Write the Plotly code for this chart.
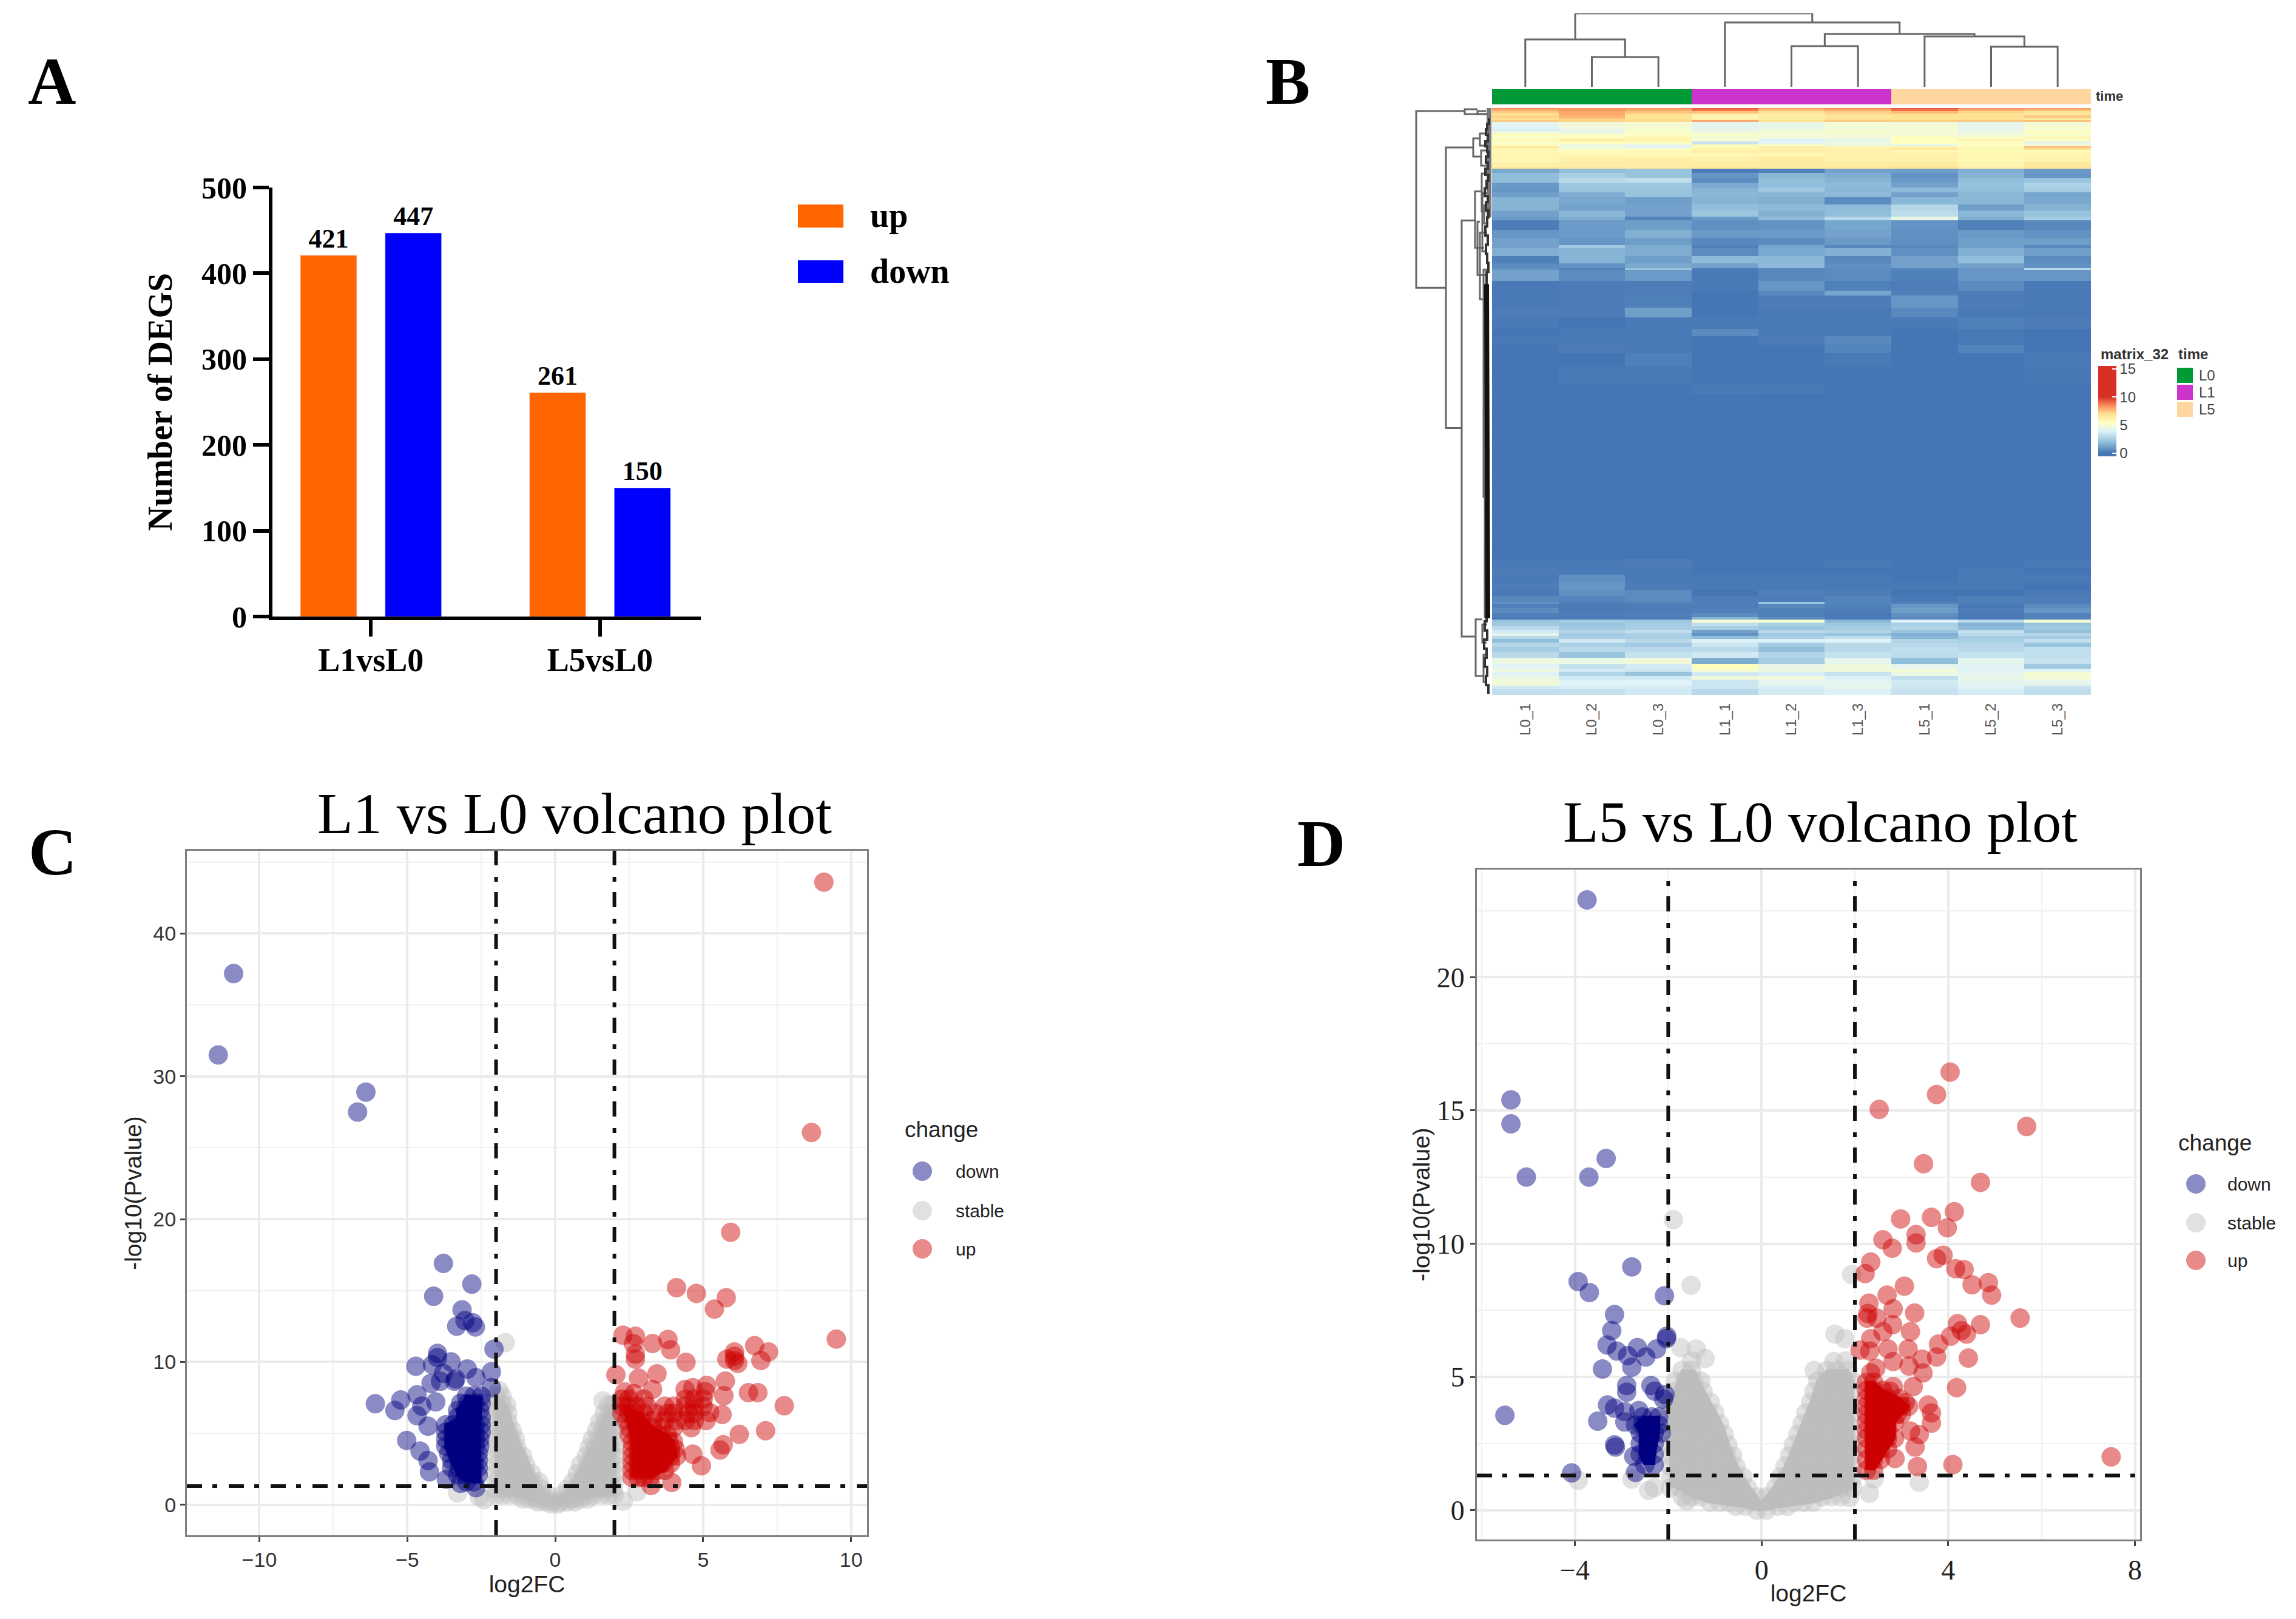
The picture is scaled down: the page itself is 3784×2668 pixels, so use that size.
import numpy as np
import plotly.graph_objects as go

W, H = 3784, 2668
SERIF = "Liberation Serif"
SANS = "Liberation Sans"

# panel A
contrasts = ["L1vsL0", "L5vsL0"]
up_counts = [421, 261]
down_counts = [447, 150]
bar_orange = "#ff6600"
bar_blue = "#0000ff"

# panel B
sample_names = ["L0_1", "L0_2", "L0_3", "L1_1", "L1_2", "L1_3", "L5_1", "L5_2", "L5_3"]
sample_group = [0, 0, 0, 1, 1, 1, 2, 2, 2]
group_names = ["L0", "L1", "L5"]
group_colors = ["#009a36", "#cc33cc", "#ffd5a0"]
heat_stops = [0, 2, 4, 5.5, 7, 8.5, 10, 15]
heat_colors = ["#4575b4", "#91bfdb", "#e0f3f8", "#ffffbf", "#fee090", "#fc8d59", "#d73027", "#d73027"]

row_span = [
    2, 3, 4, 3, 5, 3, 3,
    6, 5, 4, 4, 5, 4, 4, 5, 3, 3, 3, 5, 7, 8, 8, 3,
    7, 8, 8, 8, 8, 8, 12, 10, 10, 6,
    16, 13, 12, 5, 13, 12, 8, 3, 18, 16,
    8, 20, 16, 19, 12, 14, 14, 22, 30, 15, 271,
    14, 12, 13, 12, 10, 10, 3, 7, 8, 7, 4,
    5, 6, 6, 5, 5, 5, 6, 7, 8, 10, 10, 8, 5, 7, 6, 10, 5, 10,
]
row_values = [
    [8.6, 8.4, 8.4, 9.3, 8.4, 8.7, 9.3, 8.6, 8.3],
    [8.0, 8.3, 8.0, 8.9, 7.6, 7.9, 9.0, 7.9, 7.7],
    [7.4, 8.0, 7.5, 7.6, 6.9, 7.3, 7.7, 7.2, 6.8],
    [6.6, 8.0, 7.0, 6.2, 6.3, 7.0, 7.0, 6.7, 6.5],
    [7.2, 7.8, 6.8, 6.0, 6.3, 6.6, 6.8, 7.0, 7.4],
    [7.0, 7.3, 7.0, 6.2, 6.4, 7.0, 6.9, 6.9, 6.4],
    [7.4, 7.2, 7.1, 8.0, 6.9, 7.4, 7.3, 7.4, 7.5],
    [4.2, 4.8, 5.0, 4.2, 4.5, 4.9, 4.8, 4.4, 4.9],
    [4.0, 4.7, 5.0, 4.2, 4.4, 4.9, 4.9, 4.3, 5.2],
    [3.8, 4.4, 5.1, 4.4, 4.7, 5.0, 4.9, 4.4, 5.0],
    [4.6, 4.4, 5.2, 4.6, 5.0, 5.1, 4.9, 4.5, 5.6],
    [5.6, 5.3, 5.4, 5.2, 4.9, 4.9, 5.0, 4.8, 5.1],
    [5.2, 5.6, 6.0, 4.9, 4.7, 4.8, 5.6, 5.3, 5.9],
    [5.8, 6.4, 6.0, 5.0, 3.9, 4.3, 5.5, 6.0, 5.3],
    [5.2, 5.6, 5.4, 3.4, 4.2, 4.6, 5.5, 5.4, 4.4],
    [5.7, 4.4, 4.3, 5.7, 5.4, 4.6, 4.2, 5.5, 5.0],
    [6.6, 4.7, 4.0, 5.8, 6.4, 6.0, 6.2, 5.8, 7.6],
    [6.0, 5.0, 5.3, 6.0, 6.1, 6.2, 6.6, 5.8, 6.9],
    [5.9, 5.7, 5.8, 6.3, 6.3, 6.2, 5.9, 5.8, 5.8],
    [6.0, 5.9, 5.8, 5.9, 5.9, 6.1, 6.2, 5.9, 6.0],
    [5.9, 6.2, 6.3, 6.2, 6.4, 6.2, 6.2, 5.8, 6.1],
    [6.2, 6.3, 6.3, 6.4, 6.5, 6.4, 6.5, 6.0, 6.6],
    [6.8, 6.7, 6.5, 6.7, 6.6, 6.7, 6.8, 6.3, 6.7],
    [1.4, 2.0, 2.2, 0.2, 0.3, 1.2, 1.1, 1.5, 1.0],
    [2.0, 2.6, 2.2, 0.9, 1.8, 1.5, 0.8, 1.7, 0.9],
    [2.0, 3.0, 3.2, 0.6, 2.0, 1.7, 1.0, 2.0, 2.2],
    [1.0, 2.3, 2.3, 1.4, 2.0, 1.9, 1.2, 2.1, 2.7],
    [0.9, 2.2, 2.2, 1.7, 2.4, 1.8, 1.9, 2.0, 2.5],
    [1.1, 1.5, 2.2, 1.8, 1.7, 1.9, 1.2, 1.8, 1.3],
    [1.7, 1.4, 1.1, 1.7, 1.6, 0.6, 1.8, 1.8, 1.4],
    [1.7, 1.2, 1.2, 2.0, 1.9, 1.9, 2.9, 1.1, 1.7],
    [1.2, 1.8, 1.2, 2.3, 1.6, 2.0, 3.1, 1.8, 2.1],
    [1.0, 1.5, 0.4, 1.0, 1.9, 3.0, 4.5, 1.6, 2.5],
    [0.2, 1.0, 1.1, 0.7, 0.8, 1.3, 0.8, 0.3, 0.5],
    [0.9, 1.0, 1.6, 1.0, 1.0, 1.2, 0.7, 1.0, 0.8],
    [1.2, 0.9, 1.1, 0.5, 0.6, 1.0, 0.7, 1.1, 1.1],
    [1.2, 2.4, 1.5, 0.3, 1.3, 0.5, 0.5, 1.1, 0.5],
    [1.6, 1.7, 1.5, 0.6, 1.4, 1.6, 0.7, 1.6, 1.1],
    [0.3, 1.7, 1.1, 1.9, 1.8, 0.5, 1.2, 2.0, 0.6],
    [0.6, 0.8, 1.4, 1.2, 1.9, 0.7, 1.2, 1.2, 0.8],
    [0.8, 0.3, 2.2, 0.2, 0.5, 0.6, 0.4, 0.9, 3.0],
    [1.2, 0.6, 1.0, 0.1, 0.5, 0.6, 0.3, 0.9, 0.9],
    [0.1, 0.2, 0.2, 0.1, 0.9, 0.3, 0.2, 0.6, 0.1],
    [0.1, 0.2, 0.2, 0.0, 0.5, 1.3, 0.3, 0.2, 0.1],
    [0.1, 0.2, 0.3, 0.0, 0.2, 0.2, 0.9, 0.2, 0.1],
    [0.2, 0.2, 1.1, 0.0, 0.1, 0.1, 0.5, 0.1, 0.1],
    [0.1, 0.0, 0.1, 0.1, 0.1, 0.1, 0.1, 0.3, 0.2],
    [0.0, 0.1, 0.1, 0.6, 0.1, 0.1, 0.0, 0.1, 0.0],
    [0.1, 0.1, 0.1, 0.0, 0.2, 0.5, 0.0, 0.1, 0.0],
    [0.0, 0.2, 0.1, 0.0, 0.0, 0.4, 0.0, 0.4, 0.0],
    [0.0, 0.0, 0.3, 0.0, 0.0, 0.1, 0.0, 0.0, 0.1],
    [0.0, 0.1, 0.1, 0.0, 0.0, 0.0, 0.0, 0.0, 0.05],
    [0.0, 0.0, 0.0, 0.15, 0.1, 0.0, 0.0, 0.0, 0.0],
    [0.0, 0.0, 0.0, 0.0, 0.0, 0.0, 0.0, 0.0, 0.0],
    [0.1, 0.1, 0.2, 0.0, 0.0, 0.1, 0.0, 0.0, 0.1],
    [0.2, 0.1, 0.1, 0.0, 0.0, 0.0, 0.0, 0.1, 0.0],
    [0.1, 0.7, 0.1, 0.1, 0.1, 0.1, 0.0, 0.1, 0.1],
    [0.2, 0.9, 0.2, 0.1, 0.1, 0.1, 0.1, 0.1, 0.0],
    [0.1, 0.7, 0.6, 0.0, 0.3, 0.2, 0.0, 0.0, 0.1],
    [0.5, 0.4, 0.6, 0.2, 0.2, 0.4, 0.1, 0.3, 0.2],
    [0.7, 0.2, 0.3, 0.3, 2.2, 0.4, 0.3, 0.2, 0.3],
    [0.3, 0.2, 0.2, 0.2, 0.5, 0.3, 0.9, 0.1, 0.6],
    [0.6, 0.1, 0.2, 0.3, 0.3, 0.2, 1.1, 0.2, 0.9],
    [0.3, 0.2, 0.3, 0.6, 0.3, 0.1, 0.7, 0.1, 0.4],
    [0.1, 0.2, 0.2, 1.7, 0.6, 0.1, 0.5, 0.1, 0.4],
    [2.2, 2.5, 2.3, 5.0, 5.0, 1.8, 4.0, 3.0, 5.0],
    [2.4, 2.2, 2.5, 3.2, 2.6, 2.3, 2.6, 1.7, 2.2],
    [3.0, 2.4, 2.6, 2.6, 2.3, 2.5, 2.8, 1.9, 2.4],
    [3.6, 2.8, 3.2, 1.2, 3.0, 2.8, 2.2, 3.2, 2.0],
    [4.2, 2.4, 2.7, 0.8, 2.4, 2.2, 1.6, 3.0, 2.8],
    [3.0, 2.5, 2.6, 2.0, 2.6, 3.2, 1.8, 2.5, 2.5],
    [2.0, 3.6, 3.0, 3.9, 3.9, 4.0, 2.8, 2.6, 3.2],
    [2.9, 2.6, 2.4, 3.5, 2.4, 3.0, 3.0, 2.9, 2.2],
    [2.5, 3.0, 3.0, 3.0, 2.0, 3.0, 3.2, 3.0, 3.2],
    [3.0, 2.2, 3.3, 3.6, 2.8, 3.3, 3.1, 3.3, 3.2],
    [4.6, 4.5, 4.8, 1.5, 2.5, 4.3, 2.0, 4.2, 3.4],
    [4.1, 3.3, 3.7, 5.6, 4.4, 4.7, 4.2, 4.1, 2.4],
    [4.7, 3.7, 3.5, 5.0, 4.6, 4.8, 4.9, 4.0, 4.0],
    [4.0, 2.8, 2.2, 3.6, 3.8, 3.4, 4.5, 4.2, 5.0],
    [4.6, 3.6, 3.6, 4.8, 4.8, 3.9, 3.2, 4.4, 4.9],
    [4.8, 4.0, 4.0, 3.5, 4.3, 4.2, 3.6, 4.2, 4.3],
    [3.6, 3.8, 3.7, 3.5, 3.8, 4.4, 3.5, 4.0, 3.4],
    [3.2, 3.3, 3.6, 3.0, 3.7, 3.9, 3.4, 3.7, 3.2],
]

# column tree: node ids 0-8 are samples, merges get 9, 10, ...
col_merge_a = [1, 0, 4, 7, 6, 11, 3, 10]
col_merge_b = [2, 9, 5, 8, 12, 13, 14, 15]
col_merge_h = [49, 78, 67, 66, 83, 87, 106, 121]

# row tree, heights measured away from the heatmap
row_node_h = [125, 45, 24, 76, 31, 20, 18, 50, 28, 17, 13, 24, 20, 27, 16, 14, 14, 12, 16]
row_node_top = [5, 2, 5, 65, 50, 42, 70, 185, 137, 108, 160, 187, 205, 842, 850, 900, 266, 300, 140]
row_node_bottom = [296, 10, 10, 527, 80, 62, 95, 870, 230, 170, 190, 275, 315, 935, 880, 945, 640, 838, 236]
row_node_top_h = [45, 24, 10, 31, 20, 10, 9, 28, 17, 9, 8, 20, 8, 16, 8, 8, 8, 8, 8]
row_node_bottom_h = [76, 8, 6, 50, 18, 10, 9, 27, 13, 9, 8, 10, 10, 14, 9, 8, 8, 8, 8]
row_fine_rank = [18, 26, 35, 44, 55, 63, 72, 80, 90, 100, 110, 120, 132, 145, 155, 168, 180, 195, 210,
                 225, 240, 255, 270, 290, 845, 860, 875, 890, 905, 920, 935, 950, 965]
row_fine_h = [6, 5, 8, 10, 7, 11, 8, 6, 10, 7, 11, 6, 9, 12, 7, 10, 6, 8, 11, 7,
              10, 8, 6, 9, 9, 12, 8, 13, 9, 12, 8, 10, 6]
row_core_rank = [290, 560, 840]
row_core_h = [9, 9, 7]
row_hatch_rank = [0, 180]
row_hatch_h = [5, 5]

# panel C
change_names = ["down", "stable", "up"]
change_colors = ["rgba(0,0,128,0.46)", "rgba(190,190,190,0.46)", "rgba(205,0,0,0.46)"]
core_colors = ["#000080", "#bdbdbd", "#cc0000"]
fc_cut = 2
p_cut = 1.3

c_down_x = [-10.87, -11.39, -6.4, -6.68, -3.78, -2.82, -4.11, -3.15, -3.33, -2.7, -3.05, -2.79, -2.07, -2.16,
            -3.98, -3.98, -4.71, -3.52, -2.97, -4.15, -3.78, -3.4, -3.36, -4.2, -2.68, -3.88, -2.16, -6.08,
            -5.42, -5.22, -4.67, -4.51, -4.67, -4.04, -4.3, -5.02, -4.57, -4.3, -4.25, -3.68, -3.2, -2.68]
c_down_y = [37.2, 31.5, 28.9, 27.5, 16.9, 15.45, 14.6, 13.65, 12.5, 12.45, 12.9, 12.75, 10.9, 9.3,
            10.6, 10.3, 9.7, 10.0, 9.5, 9.8, 9.2, 8.65, 8.8, 8.5, 8.9, 8.65, 8.2, 7.07,
            6.6, 7.34, 7.7, 6.9, 6.24, 7.2, 5.5, 4.5, 3.76, 3.1, 2.3, 1.78, 1.5, 1.2]
c_down_levels = [1.6, 2.1, 2.6, 3.1, 3.6, 4.1, 4.6, 5.1, 5.6, 6.1, 6.6, 7.1, 7.6]
c_down_level_x = [
    [-3.0, -2.75],
    [-3.3, -3.05, -2.8, -2.6],
    [-3.5, -3.25, -3.0, -2.75, -2.6],
    [-3.5, -3.25, -3.0, -2.75, -2.6],
    [-3.6, -3.35, -3.1, -2.85, -2.6],
    [-3.7, -3.45, -3.2, -2.95, -2.7, -2.55],
    [-3.7, -3.45, -3.2, -2.95, -2.7, -2.55],
    [-3.7, -3.45, -3.2, -2.95, -2.7, -2.5],
    [-3.7, -3.45, -3.2, -2.95, -2.7, -2.5],
    [-3.3, -3.05, -2.8, -2.5],
    [-3.3, -3.05, -2.8, -2.55],
    [-3.2, -2.95, -2.7, -2.5],
    [-3.0, -2.75, -2.5],
]
c_down_core_x = [-2.55, -2.55, -2.5, -3.0, -3.3, -3.3, -3.7, -3.7, -3.5, -3.3, -3.0]
c_down_core_y = [1.5, 5.0, 7.5, 7.6, 6.6, 6.0, 5.6, 4.1, 3.0, 2.1, 1.6]
c_up_x = [9.08, 8.66, 5.93, 9.5, 4.1, 4.77, 5.78, 5.38, 2.29, 2.71, 2.64, 3.29, 3.81, 3.9, 2.71, 2.71, 4.42,
          6.74, 7.21, 6.95, 5.8, 6.06, 6.06, 6.17, 6.06, 2.05, 2.82, 3.44, 5.75, 3.29, 2.35, 2.66, 4.39, 4.65,
          5.12, 5.07, 5.7, 6.53, 6.85, 7.74, 5.64, 5.22, 7.11, 6.22, 5.68, 5.57, 4.94, 4.65, 3.94, 3.24]
c_up_y = [43.6, 26.07, 19.08, 11.6, 15.2, 14.8, 14.5, 13.7, 11.87, 11.8, 11.29, 11.29, 11.58, 10.85, 10.55, 10.2, 9.97,
          11.14, 10.7, 10.1, 10.2, 10.7, 10.4, 9.9, 10.1, 9.1, 8.87, 9.17, 8.65, 8.07, 7.9, 7.78, 8.07, 8.2,
          8.36, 7.92, 7.63, 7.85, 7.85, 6.93, 6.32, 6.46, 5.18, 4.93, 4.2, 3.83, 2.73, 3.54, 1.56, 1.35]
c_up_levels = [1.9, 2.4, 2.9, 3.4, 3.9, 4.4, 4.9, 5.4, 5.9, 6.4, 6.9, 7.4]
c_up_level_x = [
    [2.6, 2.8, 3.0, 3.2],
    [2.6, 2.8, 3.0, 3.2, 3.45, 3.7],
    [2.6, 2.8, 3.0, 3.2, 3.4, 3.65, 3.9],
    [2.6, 2.8, 3.05, 3.25, 3.45, 3.65, 3.9, 4.1],
    [2.6, 2.8, 3.0, 3.2, 3.45, 3.65, 3.9, 4.05],
    [2.6, 2.8, 3.05, 3.25, 3.45, 3.6, 3.85, 4.0],
    [2.5, 2.75, 3.0, 3.25, 3.5, 3.8],
    [2.5, 2.75, 3.0, 3.3, 3.6, 4.0, 4.6],
    [2.4, 2.65, 2.9, 3.3, 3.7, 4.1, 4.4, 4.7, 5.1],
    [2.25, 2.5, 2.7, 3.0, 3.4, 3.8, 4.0, 4.5, 4.7],
    [2.25, 2.45, 2.75, 3.1, 3.7, 4.0, 4.4, 4.7, 5.0],
    [2.25, 2.5, 3.0, 4.4, 4.7, 5.0],
]
c_up_core_x = [2.6, 2.6, 2.5, 2.3, 2.9, 3.3, 3.8, 4.0, 4.1, 3.9, 3.7, 3.2]
c_up_core_y = [1.9, 4.5, 5.5, 6.9, 6.4, 5.4, 4.9, 4.4, 3.4, 2.9, 2.4, 1.9]
c_stable_x = [-1.69, 1.61, -3.3, -2.57, -2.4, 2.3, 2.76]
c_stable_y = [11.35, 7.27, 0.83, 0.55, 0.35, 0.25, 0.9]
c_stable_levels = [0.05, 0.2, 0.4, 0.7, 1.1, 1.6, 2.2, 2.8, 3.4, 4.0, 4.6, 5.2, 5.8, 6.4, 7.0, 7.6, 8.0]
c_stable_level_x = [
    [-0.15, 0.1],
    [-0.6, -0.35, -0.1, 0.15, 0.4, 0.65],
    [-1.1, -0.85, -0.6, -0.3, 0.35, 0.6, 0.85, 1.1],
    [-2.0, -1.8, -1.55, -1.3, -1.05, -0.8, -0.5, -0.25, 0.25, 0.55, 0.8, 1.05, 1.3, 1.55, 1.8, 2.0],
    [-2.0, -1.75, -1.5, -1.25, -1.0, -0.75, -0.45, 0.4, 0.65, 0.95, 1.2, 1.45, 1.7, 1.95],
    [-2.0, -1.75, -1.5, -1.25, -1.0, -0.75, -0.55, 0.6, 0.85, 1.1, 1.35, 1.6, 1.85, 2.0],
    [-2.0, -1.75, -1.5, -1.25, -1.0, -0.8, 0.75, 1.0, 1.25, 1.5, 1.75, 2.0],
    [-2.0, -1.75, -1.5, -1.25, -1.0, 0.85, 1.1, 1.35, 1.6, 1.85, 2.0],
    [-2.0, -1.75, -1.5, -1.25, -1.1, 1.05, 1.25, 1.5, 1.75, 2.0],
    [-2.0, -1.75, -1.5, -1.3, 1.15, 1.35, 1.6, 1.85, 2.0],
    [-2.0, -1.75, -1.5, -1.35, 1.25, 1.45, 1.7, 1.95],
    [-2.0, -1.8, -1.6, -1.45, 1.4, 1.6, 1.85, 2.0],
    [-2.0, -1.8, -1.6, 1.5, 1.7, 1.95],
    [-2.0, -1.8, -1.6, 1.65, 1.85, 2.0],
    [-2.0, -1.8, -1.65, 1.8, 1.95],
    [-2.0, -1.8],
    [-1.9],
]
c_stable_core_x = [-2.0, -2.0, -1.65, -1.35, -1.0, -0.6, -0.3, 0.0, 0.3, 0.6, 1.05, 1.35, 1.65, 1.9, 2.0, 2.0, 1.3, 0.6, 0.0, -0.6, -1.3]
c_stable_core_y = [0.7, 7.4, 7.0, 5.0, 3.4, 1.6, 0.7, 0.5, 0.7, 1.6, 3.4, 4.6, 6.4, 7.0, 7.0, 0.7, 0.6, 0.2, 0.05, 0.2, 0.6]

# panel D
d_down_x = [-3.74, -5.37, -5.37, -5.04, -3.33, -3.7, -5.5, -4.07, -2.78, -3.93, -3.69, -2.08, -3.15, -3.21, -3.31,
            -3.1, -2.87, -2.66, -2.48, -2.78, -3.41, -2.25, -2.03, -2.04, -2.89, -2.89, -2.37, -2.29, -2.07, -2.1,
            -3.3, -3.15, -2.93, -2.63, -3.51, -2.93, -3.15, -3.13, -2.7, -2.74]
d_down_y = [22.9, 15.4, 14.5, 12.5, 13.2, 12.5, 3.56, 1.4, 9.13, 8.58, 8.17, 8.05, 7.34, 6.74, 6.2,
            5.97, 5.8, 6.1, 5.75, 5.37, 5.3, 6.05, 6.53, 6.44, 4.68, 4.43, 4.68, 4.47, 4.34, 4.17,
            3.95, 3.83, 3.7, 3.74, 3.34, 3.31, 2.45, 2.37, 1.42, 2.02]
d_down_levels = [1.7, 2.1, 2.5, 2.9, 3.2, 3.5]
d_down_level_x = [
    [-2.5, -2.3],
    [-2.6, -2.45, -2.3],
    [-2.6, -2.45, -2.3],
    [-2.6, -2.45, -2.3, -2.15],
    [-2.7, -2.55, -2.4, -2.2],
    [-2.55, -2.35, -2.2],
]
d_down_core_x = [-2.5, -2.6, -2.6, -2.7, -2.55, -2.2, -2.2, -2.3, -2.3]
d_down_core_y = [1.7, 2.1, 2.9, 3.2, 3.5, 3.5, 2.9, 2.0, 1.7]
d_up_x = [4.04, 3.75, 2.52, 5.68, 3.47, 4.69, 7.49, 2.98, 3.64, 4.13, 3.98, 3.31, 3.31, 2.6, 2.8, 2.34, 2.22, 3.75,
          3.89, 4.16, 4.34, 4.51, 4.86, 4.93, 3.06, 2.69, 2.3, 2.82, 2.28, 2.26, 2.47, 3.28, 2.81, 5.54, 4.69, 4.2,
          3.19, 4.39, 4.28, 4.05, 2.34, 2.6, 3.79, 2.11, 2.32, 2.71, 3.14, 3.75, 3.44, 4.43, 2.82, 3.16, 3.46, 2.45,
          2.34, 3.25, 4.18, 2.82, 2.75, 3.08, 3.57, 3.64, 3.64, 3.19, 3.38, 3.29, 2.86, 3.34, 4.1]
d_up_y = [16.44, 15.6, 15.04, 14.4, 13.0, 12.3, 2.0, 10.93, 10.99, 11.2, 10.6, 10.34, 10.03, 10.15, 9.83, 9.31, 8.88, 9.44,
          9.57, 9.06, 9.03, 8.46, 8.54, 8.07, 8.41, 8.07, 7.77, 7.56, 7.38, 7.21, 7.21, 7.4, 6.96, 7.21, 6.96, 7.0,
          6.7, 6.61, 6.74, 6.53, 6.44, 6.7, 6.23, 6.01, 5.97, 6.05, 6.05, 5.75, 5.67, 5.71, 5.58, 5.41, 5.15, 5.33,
          5.15, 4.64, 4.6, 4.64, 4.47, 4.04, 3.95, 3.65, 3.27, 2.97, 2.84, 2.37, 1.94, 1.64, 1.71]
d_up_levels = [1.5, 1.9, 2.3, 2.7, 3.0, 3.3, 3.6, 3.9, 4.2, 4.5, 4.8]
d_up_level_x = [
    [2.25, 2.4],
    [2.25, 2.4, 2.55],
    [2.25, 2.4, 2.55, 2.7],
    [2.25, 2.4, 2.55, 2.7, 2.85],
    [2.25, 2.4, 2.55, 2.7],
    [2.25, 2.4, 2.55, 2.7, 2.85],
    [2.25, 2.4, 2.55, 2.7, 2.9, 3.0],
    [2.25, 2.4, 2.55, 2.7, 2.85, 3.0, 3.15],
    [2.25, 2.4, 2.55, 2.7, 2.95],
    [2.25, 2.4, 2.6],
    [2.25, 2.4],
]
d_up_core_x = [2.25, 2.25, 2.4, 2.6, 2.95, 3.15, 3.0, 2.85, 2.85, 2.7, 2.55, 2.4]
d_up_core_y = [1.5, 4.8, 4.8, 4.5, 4.2, 3.9, 3.6, 3.3, 2.7, 2.3, 1.9, 1.5]
d_stable_x = [-1.73, -1.4, -1.21, -1.5, 1.57, 1.78, 1.55, 1.13, 1.8, -1.89, -1.51, 1.93, 2.31, 3.38, 1.89, -1.6, -3.93, -2.78, -2.42, 2.41, -2.3]
d_stable_y = [6.1, 6.05, 5.7, 5.6, 6.61, 6.44, 5.58, 5.24, 5.6, 10.9, 8.44, 8.84, 0.63, 1.05, 0.48, 0.35, 1.12, 1.17, 0.74, 1.17, 0.85]
d_stable_levels = [0.0, 0.15, 0.3, 0.5, 0.85, 1.25, 1.65, 2.05, 2.45, 2.85, 3.25, 3.65, 4.05, 4.45, 4.85, 5.25]
d_stable_level_x = [
    [-0.1, 0.1],
    [-0.55, -0.35, 0.35, 0.55],
    [-1.1, -0.9, -0.7, 0.7, 0.9, 1.1],
    [-1.7, -1.5, -1.3, -0.5, -0.3, -0.1, 0.1, 0.3, 0.5, 1.3, 1.5, 1.7],
    [-1.95, -1.75, -1.55, -1.35, -1.15, -0.95, -0.75, -0.5, -0.3, 0.3, 0.5, 0.75, 0.95, 1.15, 1.35, 1.55, 1.75, 1.95],
    [-1.95, -1.75, -1.55, -1.35, -1.15, -0.95, -0.75, -0.55, -0.4, 0.4, 0.55, 0.75, 0.95, 1.15, 1.35, 1.55, 1.75, 1.95],
    [-1.95, -1.75, -1.55, -1.35, -1.15, -0.95, -0.75, -0.55, 0.5, 0.7, 0.9, 1.1, 1.3, 1.5, 1.7, 1.95],
    [-1.95, -1.75, -1.55, -1.35, -1.15, -0.95, -0.75, -0.62, 0.6, 0.8, 1.0, 1.2, 1.4, 1.6, 1.8, 1.95],
    [-1.95, -1.75, -1.55, -1.35, -1.15, -0.95, -0.72, 0.68, 0.9, 1.1, 1.3, 1.5, 1.7, 1.95],
    [-1.95, -1.75, -1.55, -1.35, -1.15, -0.95, -0.8, 0.78, 1.0, 1.2, 1.4, 1.6, 1.8, 1.95],
    [-1.95, -1.75, -1.55, -1.35, -1.15, -0.9, 0.87, 1.05, 1.25, 1.45, 1.65, 1.85],
    [-1.95, -1.75, -1.55, -1.35, -1.15, -1.0, 0.95, 1.15, 1.35, 1.55, 1.75, 1.95],
    [-1.95, -1.75, -1.55, -1.35, -1.1, 1.05, 1.25, 1.45, 1.65, 1.85],
    [-1.85, -1.65, -1.45, -1.25, 1.12, 1.3, 1.5, 1.7, 1.9],
    [-1.85, -1.65, -1.45, -1.3, 1.2, 1.4, 1.6, 1.8, 1.95],
    [-1.7, -1.5, 1.4, 1.6, 1.85],
]
d_stable_core_x = [-1.95, -1.95, -1.7, -1.45, -1.1, -0.85, -0.62, -0.4, -0.15, 0.0, 0.15, 0.4, 0.6, 0.87, 1.05, 1.2, 1.4, 1.85,
                   1.95, 1.95, 1.5, 1.1, 0.5, 0.0, -0.5, -1.1, -1.5]
d_stable_core_y = [0.9, 4.1, 5.25, 5.25, 4.05, 3.25, 2.05, 1.25, 0.6, 0.3, 0.6, 1.25, 2.05, 3.25, 4.05, 4.85, 5.25, 5.25,
                   4.85, 0.85, 0.5, 0.3, 0.15, 0.0, 0.15, 0.3, 0.5]


def dom_x(left, right):
    return [left / W, right / W]


def dom_y(top, bottom):
    return [1 - bottom / H, 1 - top / H]


def flatten(levels, level_x, extra_x, extra_y):
    xs, ys = list(extra_x), list(extra_y)
    for level, row in zip(levels, level_x):
        xs += row
        ys += [level] * len(row)
    return xs, ys


def note(x, y, text, size, family=SERIF, color="black", anchor="center", angle=0):
    return dict(xref="paper", yref="paper", x=x / W, y=1 - y / H, text=text, showarrow=False, xanchor=anchor,
                yanchor="middle", textangle=angle, font=dict(family=family, size=size, color=color))


def swatch(shape, left, top, right, bottom, color):
    return dict(type=shape, xref="paper", yref="paper", x0=left / W, x1=right / W, y0=1 - top / H, y1=1 - bottom / H,
                fillcolor=color, line_width=0, layer="above")


fig = go.Figure()

# A
fig.add_trace(go.Bar(x=contrasts, y=up_counts, name="up", marker_color=bar_orange, text=up_counts, xaxis="x", yaxis="y"))
fig.add_trace(go.Bar(x=contrasts, y=down_counts, name="down", marker_color=bar_blue, text=down_counts, xaxis="x", yaxis="y"))
fig.update_traces(textposition="outside", cliponaxis=False, constraintext="none",
                  textfont=dict(family=SERIF, size=44, color="black"), texttemplate="<b>%{text}</b>", selector=dict(type="bar"))

# B
cum_rows = np.concatenate([[0], np.cumsum(row_span)])
positions = np.arange(len(sample_names))
scale_min, scale_max = -0.54, 15.54
heat_scale = [[(v - scale_min) / (scale_max - scale_min), c] for v, c in zip(heat_stops, heat_colors)]
heat_scale = [[0, heat_colors[0]]] + heat_scale + [[1, heat_colors[-1]]]
fig.add_trace(go.Heatmap(
    z=row_values, x=positions, y=cum_rows, zmin=scale_min, zmax=scale_max, colorscale=heat_scale, xaxis="x2", yaxis="y2",
    colorbar=dict(
        x=3458 / W, xanchor="left", y=1 - 752 / H, yanchor="bottom", lenmode="pixels", len=149, thickness=30, xpad=0, ypad=0,
        outlinewidth=0, tickmode="array", tickvals=[0, 5, 10, 15], ticks="inside", ticklen=7, tickwidth=2, tickcolor="white",
        tickfont=dict(family=SANS, size=24, color="#444444"),
    ),
))
fig.add_trace(go.Heatmap(
    z=[sample_group], x=positions, y=["time"], zmin=0, zmax=2, showscale=False, xaxis="x3", yaxis="y3",
    colorscale=[[0, group_colors[0]], [0.5, group_colors[1]], [1, group_colors[2]]],
))

node_pos = list(positions.astype(float))
node_h = [0.0] * len(positions)
col_dx, col_dy = [], []
for a, b, h in zip(col_merge_a, col_merge_b, col_merge_h):
    col_dx += [node_pos[a], node_pos[a], node_pos[b], node_pos[b], None]
    col_dy += [node_h[a], h, h, node_h[b], None]
    node_pos.append((node_pos[a] + node_pos[b]) / 2)
    node_h.append(h)
fig.add_trace(go.Scatter(x=col_dx, y=col_dy, mode="lines", line=dict(color="#666666", width=3), xaxis="x4", yaxis="y4", cliponaxis=False))

row_dx, row_dy = [], []
for h, top, bottom, top_h, bottom_h in zip(row_node_h, row_node_top, row_node_bottom, row_node_top_h, row_node_bottom_h):
    row_dx += [top_h, h, h, bottom_h, None]
    row_dy += [top, top, bottom, bottom, None]
fig.add_trace(go.Scatter(x=row_hatch_h, y=row_hatch_rank, mode="lines", line=dict(color="#777777", width=8), xaxis="x5", yaxis="y5"))
fig.add_trace(go.Scatter(x=row_dx, y=row_dy, mode="lines", line=dict(color="#666666", width=3), xaxis="x5", yaxis="y5", cliponaxis=False))
fig.add_trace(go.Scatter(x=row_fine_h, y=row_fine_rank, mode="lines", line=dict(color="#333333", width=4, shape="hv"), xaxis="x5", yaxis="y5"))
fig.add_trace(go.Scatter(x=row_core_h, y=row_core_rank, mode="lines", line=dict(color="#111111", width=8), xaxis="x5", yaxis="y5"))

# C and D
for (dn_l, dn_lx, dn_x, dn_y, dn_cx, dn_cy, st_l, st_lx, st_x, st_y, st_cx, st_cy, up_l, up_lx, up_x, up_y, up_cx, up_cy, xa, ya) in [
    (c_down_levels, c_down_level_x, c_down_x, c_down_y, c_down_core_x, c_down_core_y,
     c_stable_levels, c_stable_level_x, c_stable_x, c_stable_y, c_stable_core_x, c_stable_core_y,
     c_up_levels, c_up_level_x, c_up_x, c_up_y, c_up_core_x, c_up_core_y, "x6", "y6"),
    (d_down_levels, d_down_level_x, d_down_x, d_down_y, d_down_core_x, d_down_core_y,
     d_stable_levels, d_stable_level_x, d_stable_x, d_stable_y, d_stable_core_x, d_stable_core_y,
     d_up_levels, d_up_level_x, d_up_x, d_up_y, d_up_core_x, d_up_core_y, "x7", "y7"),
]:
    groups = [
        (flatten(st_l, st_lx, st_x, st_y), st_cx, st_cy, "stable", 1),
        (flatten(dn_l, dn_lx, dn_x, dn_y), dn_cx, dn_cy, "down", 0),
        (flatten(up_l, up_lx, up_x, up_y), up_cx, up_cy, "up", 2),
    ]
    for (xs, ys), core_x, core_y, name, k in groups:
        # the overplotted centre of each cloud is a solid area
        fig.add_trace(go.Scatter(x=core_x, y=core_y, mode="lines", fill="toself", fillcolor=core_colors[k],
                                 line=dict(color=core_colors[k], width=4), xaxis=xa, yaxis=ya, name=name))
        fig.add_trace(go.Scatter(x=xs, y=ys, mode="markers", name=name, xaxis=xa, yaxis=ya,
                                 marker=dict(size=32, color=change_colors[k], line_width=0)))

shapes = []
for xa, ya in [("x6", "y6"), ("x7", "y7")]:
    cut_line = dict(color="#111111", width=6, dash="25px,17px,8px,19px")
    for cut in [-fc_cut, fc_cut]:
        shapes.append(dict(type="line", xref=xa, yref=ya + " domain", x0=cut, x1=cut, y0=0, y1=1, line=cut_line, layer="above"))
    shapes.append(dict(type="line", xref=xa + " domain", yref=ya, x0=0, x1=1, y0=p_cut, y1=p_cut, line=cut_line, layer="above"))

# drawn legends
shapes += [swatch("rect", 1315, 337, 1390, 375, bar_orange), swatch("rect", 1315, 429, 1390, 466, bar_blue)]
for i, color in enumerate(group_colors):
    shapes.append(swatch("rect", 3588, 606 + i * 28, 3614, 631 + i * 28, color))
for cx, rows in [(1520, [1930, 1995, 2058]), (3619, [1951, 2015, 2077])]:
    for cy, color in zip(rows, change_colors):
        shapes.append(swatch("circle", cx - 16, cy - 16, cx + 16, cy + 16, color))

annotations = [
    note(85, 134, "<b>A</b>", 110), note(2122, 134, "<b>B</b>", 110), note(86, 1404, "<b>C</b>", 110), note(2177, 1390, "<b>D</b>", 110),
    note(1432, 355, "<b>up</b>", 56, anchor="left"), note(1432, 447, "<b>down</b>", 56, anchor="left"),
    note(3452, 159, "<b>time</b>", 22, family=SANS, color="#333333", anchor="left"),
    note(3460, 583, "<b>matrix_32</b>", 24, family=SANS, color="#333333", anchor="left"),
    note(3588, 583, "<b>time</b>", 24, family=SANS, color="#333333", anchor="left"),
    note(947, 1340, "L1 vs L0 volcano plot", 96), note(3000, 1354, "L5 vs L0 volcano plot", 96),
    note(1489, 1862, "change", 37, family=SANS, color="#222222", anchor="left"),
    note(3588, 1883, "change", 37, family=SANS, color="#222222", anchor="left"),
]
for i, name in enumerate(group_names):
    annotations.append(note(3622, 618 + i * 28, name, 24, family=SANS, color="#444444", anchor="left"))
for cy, name in zip([1930, 1995, 2058], change_names):
    annotations.append(note(1573, cy, name, 30, family=SANS, color="#222222", anchor="left"))
for cy, name in zip([1951, 2015, 2077], change_names):
    annotations.append(note(3669, cy, name, 30, family=SANS, color="#222222", anchor="left"))


def bare(domain, **extra):
    return dict(domain=domain, visible=False, fixedrange=True, **extra)


def volcano_axis(domain, rng, tickvals, minor_step, font, title, standoff):
    return dict(
        domain=domain, range=rng, tickmode="array", tickvals=tickvals, ticks="outside", ticklen=8, tickwidth=3, tickcolor="#444444",
        showline=True, mirror=True, linecolor="#7f7f7f", linewidth=3, zeroline=False, showgrid=True, gridcolor="#ebebeb", gridwidth=4,
        minor=dict(dtick=minor_step, showgrid=True, gridcolor="#f1f1f1", gridwidth=2, ticks=""),
        tickfont=font, title=dict(text=title, standoff=standoff, font=dict(family=SANS, size=39, color="#222222")),
    )


c_font = dict(family=SANS, size=34, color="#333333")
d_font = dict(family=SERIF, size=46, color="#222222")
bold_axis = dict(family=SERIF, size=50, color="black")

fig.update_layout(
    width=W, height=H, margin=dict(l=0, r=0, t=0, b=0, autoexpand=False), paper_bgcolor="white", plot_bgcolor="white", showlegend=False,
    barmode="group", bargap=0.26, bargroupgap=0.335,
    shapes=shapes, annotations=annotations,
    xaxis=dict(domain=dom_x(449, 1155), type="category", range=[-0.43, 1.44], showline=True, linecolor="black", linewidth=6,
               ticks="outside", ticklen=27, tickwidth=6, tickcolor="black", ticklabelstandoff=-8,
               tickfont=dict(family=SERIF, size=54, color="black"), tickprefix="<b>", ticksuffix="</b>", anchor="y"),
    yaxis=dict(domain=dom_y(309, 1016), range=[0, 500], dtick=100, showline=True, linecolor="black", linewidth=6, showgrid=False,
               zeroline=False, ticks="outside", ticklen=26, tickwidth=6, tickcolor="black", tickfont=bold_axis,
               tickprefix="<b>", ticksuffix="</b>", anchor="x",
               title=dict(text="<b>Number of DEGS</b>", standoff=32, font=dict(family=SERIF, size=56, color="black"))),
    xaxis2=dict(domain=dom_x(2459, 3446), anchor="y2", range=[-0.5, 8.5], tickmode="array", tickvals=list(positions), ticktext=sample_names,
                tickangle=-90, ticks="", ticklabelstandoff=8, tickfont=dict(family=SANS, size=24, color="#555555"), showgrid=False, zeroline=False),
    yaxis2=dict(domain=dom_y(178, 1145), anchor="x2", range=[float(cum_rows[-1]), 0], visible=False),
    xaxis3=bare(dom_x(2459, 3446), anchor="y3", range=[-0.5, 8.5]),
    yaxis3=bare(dom_y(147, 172), anchor="x3"),
    xaxis4=bare(dom_x(2459, 3446), anchor="y4", range=[-0.5, 8.5]),
    yaxis4=bare(dom_y(22, 143), anchor="x4", range=[0, 121]),
    xaxis5=bare(dom_x(2320, 2459), anchor="y5", range=[139, 0]),
    yaxis5=bare(dom_y(178, 1145), anchor="x5", range=[float(cum_rows[-1]), 0]),
    xaxis6=volcano_axis(dom_x(308, 1429), [-12.45, 10.54], [-10, -5, 0, 5, 10], 2.5, c_font, "log2FC", 5) | dict(anchor="y6"),
    yaxis6=volcano_axis(dom_y(1402, 2530), [-2.14, 45.8], [0, 10, 20, 30, 40], 5, c_font, "-log10(Pvalue)", 7) | dict(anchor="x6"),
    xaxis7=volcano_axis(dom_x(2434, 3527), [-6.1, 8.11], [-4, 0, 4, 8], 2, d_font, "log2FC", 0) | dict(anchor="y7"),
    yaxis7=volcano_axis(dom_y(1433, 2537), [-1.1, 24.04], [0, 5, 10, 15, 20], 2.5, d_font, "-log10(Pvalue)", 0) | dict(anchor="x7"),
)

fig.write_html("out.html", post_script="document.body.style.margin='0';", config=dict(displayModeBar=False))
